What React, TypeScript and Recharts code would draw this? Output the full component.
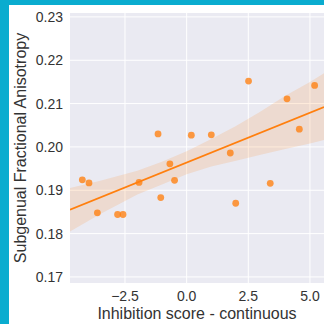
import {
  Area,
  CartesianGrid,
  ComposedChart,
  Line,
  Scatter,
  XAxis,
  YAxis,
} from "recharts";

// inhibition score vs subgenual FA
const scoreX = [
  -4.23, -3.96, -3.62, -2.8, -2.58, -1.93, -1.16, -1.05, -0.68, -0.49, 0.19,
  1.0, 1.77, 1.99, 2.51, 3.39, 4.07, 4.57, 5.19,
];
const faY = [
  0.1924, 0.1917, 0.1848, 0.1844, 0.1844, 0.1918, 0.203, 0.1883, 0.1961,
  0.1923, 0.2027, 0.2028, 0.1986, 0.187, 0.2152, 0.1916, 0.2111, 0.2041,
  0.2142,
];

// regression line ends
const fitX = [-4.73, 5.57];
const fitY = [0.1855, 0.2092];

// confidence band
const bandX = [-4.73, -3.5, -2.0, -1.0, 0.0, 1.0, 2.0, 3.0, 4.0, 5.0, 5.57];
const bandLo = [
  0.1805, 0.1845, 0.189, 0.1913, 0.1937, 0.1955, 0.1968, 0.1982, 0.1995,
  0.2008, 0.2016,
];
const bandHi = [
  0.1905, 0.1922, 0.1945, 0.1966, 0.199, 0.2018, 0.2048, 0.2082, 0.2118,
  0.215, 0.217,
];

const xTicks = [-2.5, 0, 2.5, 5];
const yTicks = [0.17, 0.18, 0.19, 0.2, 0.21, 0.22, 0.23];

const points = scoreX.map((x, i) => ({ x, y: faY[i] }));
const fit = fitX.map((x, i) => ({ x, y: fitY[i] }));
const band = bandX.map((x, i) => ({ x, band: [bandLo[i], bandHi[i]] }));

const ORANGE = "#ff7f0e";
const FONT = "'Liberation Sans', Arial, sans-serif";
const TICK = { fontSize: 14, fill: "#333", fontFamily: FONT };

const fmtX = (v: number) => {
  const s = Math.abs(v).toFixed(1);
  return v < 0 ? "\u2212" + s : s;
};

export default function App() {
  return (
    <div
      style={{
        position: "absolute",
        left: 0,
        top: 0,
        width: 324,
        height: 324,
        background: "#fff",
        overflow: "hidden",
      }}
    >
      <ComposedChart
        width={324}
        height={324}
        margin={{ top: 13, right: 0, bottom: 0, left: 0 }}
      >
        <CartesianGrid
          fill="#EAEAF2"
          stroke="#fff"
          strokeWidth={1}
          horizontalValues={yTicks}
          verticalValues={xTicks}
        />
        <XAxis
          type="number"
          dataKey="x"
          domain={[-4.73, 5.57]}
          allowDataOverflow
          ticks={xTicks}
          tickFormatter={fmtX}
          tick={TICK}
          tickSize={0}
          tickMargin={8}
          axisLine={false}
          tickLine={false}
          height={41}
          label={{
            content: ({ viewBox }: any) => (
              <text
                x={viewBox.x + viewBox.width / 2}
                y={viewBox.y + 35.5}
                textAnchor="middle"
                fontSize={16}
                fill="#333"
                fontFamily={FONT}
              >
                Inhibition score - continuous
              </text>
            ),
          }}
        />
        <YAxis
          type="number"
          domain={[0.1686, 0.2309]}
          allowDataOverflow
          ticks={yTicks}
          tickFormatter={(v: number) => v.toFixed(2)}
          tick={TICK}
          tickSize={0}
          tickMargin={7}
          axisLine={false}
          tickLine={false}
          width={70}
          label={{
            content: ({ viewBox }: any) => {
              const cx = 26;
              const cy = viewBox.y + viewBox.height / 2;
              return (
                <text
                  x={cx}
                  y={cy}
                  transform={`rotate(-90 ${cx} ${cy})`}
                  textAnchor="middle"
                  fontSize={16}
                  fill="#333"
                  fontFamily={FONT}
                >
                  Subgenual Fractional Anisotropy
                </text>
              );
            },
          }}
        />
        <Area
          data={band}
          dataKey="band"
          type="linear"
          fill={ORANGE}
          fillOpacity={0.15}
          stroke="none"
          isAnimationActive={false}
        />
        <Scatter
          data={points}
          dataKey="y"
          isAnimationActive={false}
          shape={(p: any) => (
            <circle cx={p.cx} cy={p.cy} r={3.4} fill={ORANGE} fillOpacity={0.78} />
          )}
        />
        <Line
          data={fit}
          dataKey="y"
          type="linear"
          stroke={ORANGE}
          strokeWidth={1.8}
          dot={false}
          activeDot={false}
          isAnimationActive={false}
        />
      </ComposedChart>
      <div
        style={{
          position: "absolute",
          left: 0,
          top: 0,
          width: 324,
          height: 324,
          boxSizing: "border-box",
          borderLeft: "9px solid #0AACCF",
          borderTop: "5px solid #0AACCF",
          pointerEvents: "none",
        }}
      />
    </div>
  );
}
